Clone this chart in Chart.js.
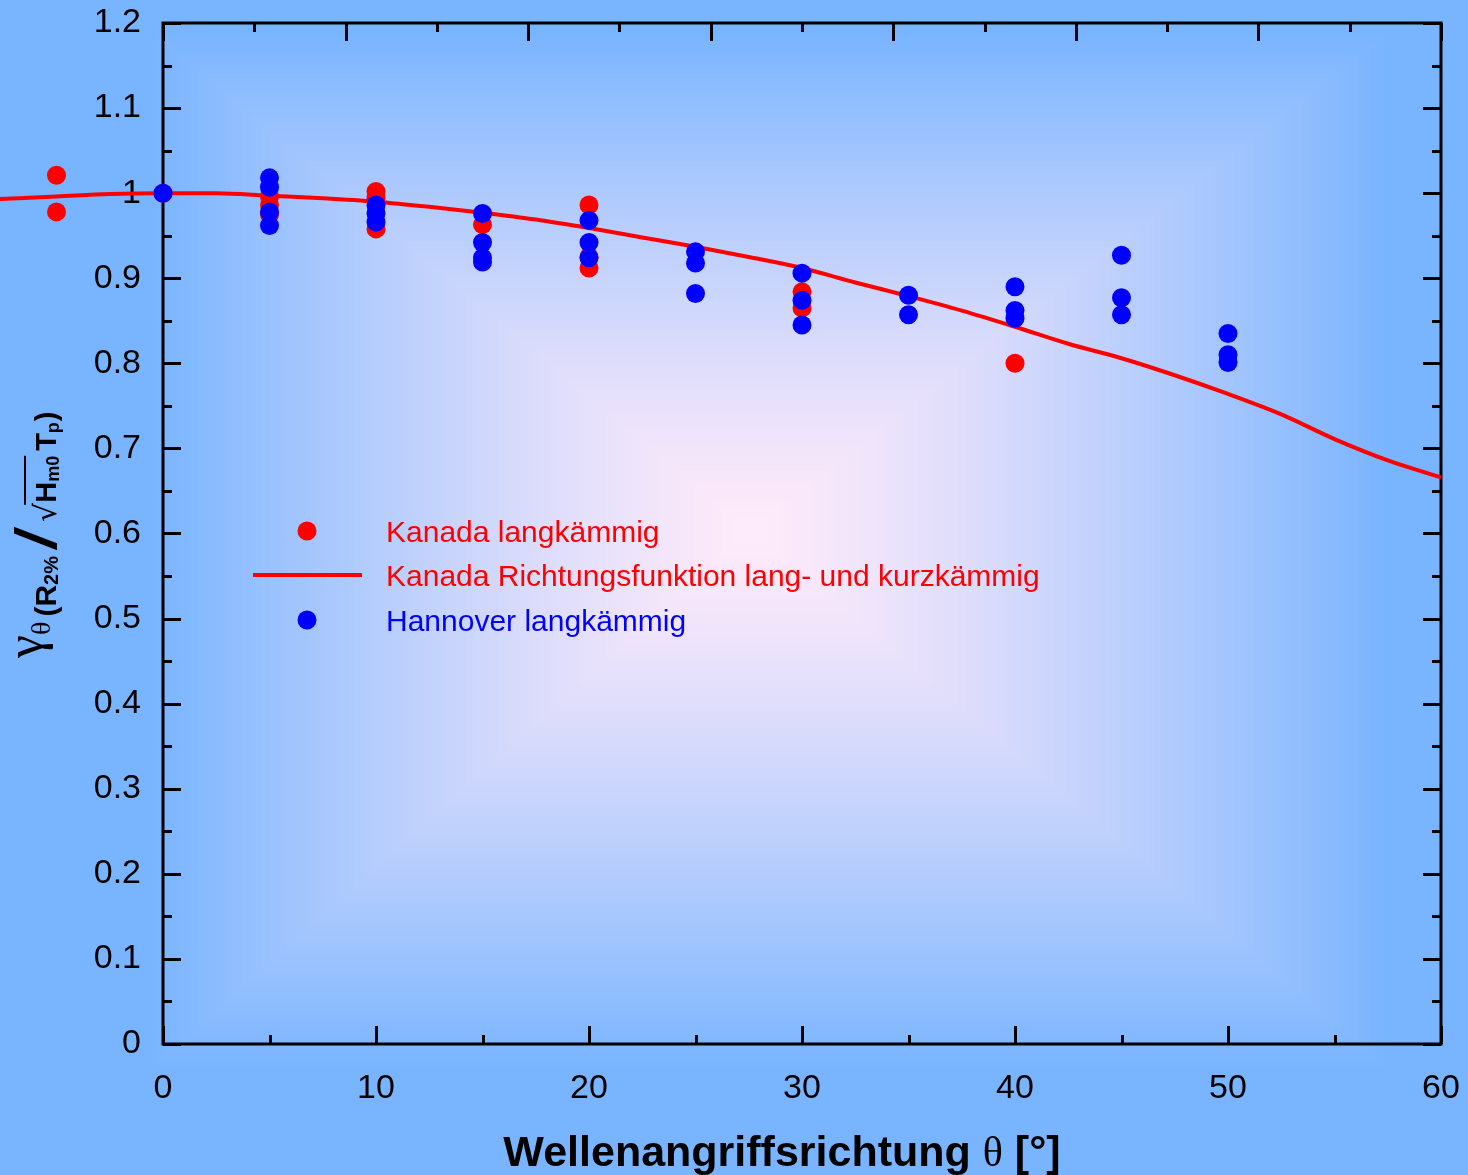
<!DOCTYPE html>
<html>
<head>
<meta charset="utf-8">
<script src="https://cdn.jsdelivr.net/npm/chart.js@4"></script>
<style>
  html, body { margin: 0; padding: 0; overflow: hidden; background: #78b4ff; }
  #c { display: block; }
</style>
</head>
<body>
<canvas id="c" width="1468" height="1175"></canvas>
<script>
// ---- data ---------------------------------------------------------------
// Kanada, long-crested waves: wave direction [deg] and reduction factor
const kanadaTheta = [-5, -5, 0, 5, 5, 5, 10, 10, 10, 15, 20, 20, 20, 30, 30, 40];
const kanadaGamma = [1.021, 0.978, 1.000, 0.996, 0.986, 0.975, 1.002, 0.994, 0.958, 0.963, 0.986, 0.925, 0.912, 0.884, 0.865, 0.800];

// Hannover, long-crested waves
const hannoverTheta = [0, 5, 5, 5, 5, 10, 10, 10, 15, 15, 15, 15, 20, 20, 20, 25, 25, 25, 30, 30, 30, 35, 35, 40, 40, 40, 45, 45, 45, 50, 50, 50];
const hannoverGamma = [1.000, 1.018, 1.007, 0.978, 0.962, 0.986, 0.976, 0.966, 0.976, 0.942, 0.924, 0.919, 0.968, 0.942, 0.924, 0.931, 0.918, 0.882, 0.906, 0.874, 0.845, 0.880, 0.857, 0.890, 0.862, 0.853, 0.927, 0.877, 0.857, 0.835, 0.810, 0.801];

// Kanada directional function (long- and short-crested)
const curveTheta = [-7.7, -5, -2.5, 0, 2.5, 5, 7.5, 10, 12.5, 15, 17.5, 20, 22.5, 25, 27.5, 30, 32.5, 35, 37.5, 40, 42.5, 45, 47.5, 50, 52.5, 55, 57.5, 60];
const curveGamma = [0.993, 0.996, 0.999, 1.000, 1.000, 0.997, 0.994, 0.990, 0.984, 0.977, 0.969, 0.959, 0.948, 0.937, 0.925, 0.912, 0.895, 0.879, 0.862, 0.843, 0.823, 0.806, 0.786, 0.764, 0.740, 0.711, 0.686, 0.666];

// axis ranges and tick labels
const xRange = [0, 60];
const yRange = [0, 1.2];
const xTickLabels = ['0', '10', '20', '30', '40', '50', '60'];
const yTickLabels = ['0', '0.1', '0.2', '0.3', '0.4', '0.5', '0.6', '0.7', '0.8', '0.9', '1', '1.1', '1.2'];

const seriesNames = ['Kanada langkämmig', 'Kanada Richtungsfunktion lang- und kurzkämmig', 'Hannover langkämmig'];

// ---- helpers ------------------------------------------------------------
const zip = (xs, ys) => xs.map((x, i) => ({ x: x, y: ys[i] }));

const SANS = '"Liberation Sans", Arial, sans-serif';
const SERIF = '"Liberation Serif", "Times New Roman", serif';
const RED = '#ff0000';
const BLUE = '#0000ff';
const DOT = 9.5;

// rectangular gradient backdrop, pale pink in the middle to blue at the edges
const backdrop = {
  id: 'backdrop',
  beforeDraw(chart) {
    const ctx = chart.ctx;
    const W = chart.width, H = chart.height;
    if (!this._img || this._img.width !== W || this._img.height !== H) {
      const img = ctx.createImageData(W, H);
      const cx = 750, cy = 530;
      const hxL = 600, hxR = 640, hyT = 500, hyB = 540;
      const edge = [120, 180, 255], mid = [254, 234, 250];
      for (let y = 0; y < H; y++) {
        const ty = y < cy ? (cy - y) / hyT : (y - cy) / hyB;
        for (let x = 0; x < W; x++) {
          const tx = x < cx ? (cx - x) / hxL : (x - cx) / hxR;
          let t = Math.min(1, Math.max(tx, ty));
          t = Math.pow(t, 1.3);
          const k = (y * W + x) * 4;
          img.data[k] = mid[0] + (edge[0] - mid[0]) * t;
          img.data[k + 1] = mid[1] + (edge[1] - mid[1]) * t;
          img.data[k + 2] = mid[2] + (edge[2] - mid[2]) * t;
          img.data[k + 3] = 255;
        }
      }
      this._img = img;
    }
    ctx.putImageData(this._img, 0, 0);
  }
};

// box frame with inward major/minor ticks on all four sides
const frame = {
  id: 'frame',
  beforeDatasetsDraw(chart) {
    const ctx = chart.ctx;
    const a = chart.chartArea;
    const xs = chart.scales.x, ys = chart.scales.y;
    const MAJ = 18, MIN = 9;
    ctx.save();
    ctx.strokeStyle = '#000';
    ctx.lineWidth = 3;
    ctx.lineCap = 'butt';
    ctx.beginPath();
    ctx.rect(a.left, a.top, a.right - a.left, a.bottom - a.top);
    ctx.stroke();
    ctx.beginPath();
    // left and right: major every 0.1, minor between
    for (let i = 0; i <= 24; i++) {
      const py = Math.round(ys.getPixelForValue(i * 0.05)) + 0.5;
      const len = i % 2 === 0 ? MAJ : MIN;
      ctx.moveTo(a.left, py); ctx.lineTo(a.left + len, py);
      ctx.moveTo(a.right, py); ctx.lineTo(a.right - len, py);
    }
    // bottom: major every 10, minor every 5
    for (let i = 0; i <= 12; i++) {
      const px = Math.round(xs.getPixelForValue(i * 5)) + 0.5;
      const len = i % 2 === 0 ? MAJ : MIN;
      ctx.moveTo(px, a.bottom); ctx.lineTo(px, a.bottom - len);
    }
    // top: seven equal divisions with half-step minors
    const TOP_DIV = 7;
    for (let i = 0; i <= TOP_DIV * 2; i++) {
      const px = Math.round(a.left + (a.right - a.left) * i / (TOP_DIV * 2)) + 0.5;
      const len = i % 2 === 0 ? MAJ : MIN;
      ctx.moveTo(px, a.top); ctx.lineTo(px, a.top + len);
    }
    ctx.stroke();
    ctx.restore();
  }
};

// points lying left of the axis box (negative angles) are skipped by the
// point elements' own in-area test; draw those elements here as well
const outsidePoints = {
  id: 'outsidePoints',
  afterDatasetDraw(chart, args) {
    const meta = args.meta;
    if (meta.dataset && meta.dataset.options && meta.dataset.options.showLine) return;
    const a = chart.chartArea;
    const wide = { left: -1e6, top: -1e6, right: 1e6, bottom: 1e6 };
    meta.data.forEach(el => {
      const r = (el.options && el.options.radius) || 0;
      if (el.x < a.left - r || el.x > a.right + r || el.y < a.top - r || el.y > a.bottom + r) {
        el.draw(chart.ctx, wide);
      }
    });
  }
};

// legend inside the plot, axis titles
const annotations = {
  id: 'annotations',
  afterDraw(chart) {
    const ctx = chart.ctx;
    ctx.save();

    // legend
    ctx.font = '30px ' + SANS;
    ctx.textBaseline = 'alphabetic';
    ctx.textAlign = 'left';
    ctx.fillStyle = RED;
    ctx.beginPath(); ctx.arc(307, 531, DOT, 0, Math.PI * 2); ctx.fill();
    ctx.fillText(seriesNames[0], 386, 542);
    ctx.strokeStyle = RED; ctx.lineWidth = 4;
    ctx.beginPath(); ctx.moveTo(253, 575); ctx.lineTo(362, 575); ctx.stroke();
    ctx.fillText(seriesNames[1], 386, 586);
    ctx.fillStyle = BLUE;
    ctx.beginPath(); ctx.arc(307, 620, DOT, 0, Math.PI * 2); ctx.fill();
    ctx.fillText(seriesNames[2], 386, 631);

    // x axis title
    ctx.fillStyle = '#000';
    const p1 = 'Wellenangriffsrichtung ', p2 = '\u03b8', p3 = ' [\u00b0]';
    const f1 = 'bold 43px ' + SANS, f2 = '42px ' + SERIF;
    ctx.font = f1; const w1 = ctx.measureText(p1).width, w3 = ctx.measureText(p3).width;
    ctx.font = f2; const w2 = ctx.measureText(p2).width;
    let x = 782 - (w1 + w2 + w3) / 2;
    const by = 1166;
    ctx.font = f1; ctx.fillText(p1, x, by); x += w1;
    ctx.font = f2; ctx.fillText(p2, x, by); x += w2;
    ctx.font = f1; ctx.fillText(p3, x, by);

    // y axis title, rotated
    ctx.translate(56, 658);
    ctx.rotate(-Math.PI / 2);
    let u = 0;
    const put = (txt, font, dy, gap) => {
      u += gap || 0;
      ctx.font = font;
      ctx.fillText(txt, u, dy);
      u += ctx.measureText(txt).width;
    };
    put('\u03b3', '52px ' + SERIF, -14, 0);
    put('\u03b8', '28px ' + SERIF, -6, 0);
    put('(', 'bold 30px ' + SANS, 0, 5);
    put('R', 'bold 30px ' + SANS, 0, 0);
    put('2%', 'bold 20px ' + SANS, 2, 0);
    put('/', 'bold italic 58px ' + SANS, 0, 8);
    u += 10;
    put('\u221a', '30px "DejaVu Sans", sans-serif', 0, 0);
    const ovStart = u - 2;
    put('H', 'bold 29px ' + SANS, 0, 0);
    put('m0', 'bold 18px ' + SANS, 3, 0);
    const ovEnd = u;
    put('T', 'bold 29px ' + SANS, 0, 5);
    put('p', 'bold 18px ' + SANS, 3, 0);
    put(')', 'bold 29px ' + SANS, 0, 1);
    ctx.strokeStyle = '#000'; ctx.lineWidth = 2;
    ctx.beginPath(); ctx.moveTo(ovStart, -31); ctx.lineTo(ovEnd, -31); ctx.stroke();

    ctx.restore();
  }
};

new Chart(document.getElementById('c'), {
  type: 'scatter',
  data: {
    datasets: [
      {
        label: seriesNames[2],
        data: zip(hannoverTheta, hannoverGamma),
        backgroundColor: BLUE, borderColor: BLUE,
        pointRadius: DOT, pointBorderWidth: 0,
        clip: false, order: 0
      },
      {
        label: seriesNames[0],
        data: zip(kanadaTheta, kanadaGamma),
        backgroundColor: RED, borderColor: RED,
        pointRadius: DOT, pointBorderWidth: 0,
        clip: false, order: 1
      },
      {
        label: seriesNames[1],
        data: zip(curveTheta, curveGamma),
        showLine: true, borderColor: RED, borderWidth: 4,
        pointRadius: 0, cubicInterpolationMode: 'monotone',
        fill: false, clip: false, order: 2
      }
    ]
  },
  options: {
    responsive: false,
    animation: false,
    events: [],
    layout: { padding: { top: 23, right: 27, left: 0, bottom: 0 } },
    plugins: { legend: { display: false }, tooltip: { enabled: false } },
    scales: {
      x: {
        type: 'linear',
        // range set after data limits so points left of 0 are still drawn
        afterDataLimits(s) { s.min = xRange[0]; s.max = xRange[1]; },
        grid: { display: false, drawTicks: false },
        border: { display: false },
        afterFit(s) { s.height = 131; s.paddingLeft = 0; s.paddingRight = 0; },
        ticks: {
          stepSize: 10, padding: 24, color: '#000',
          font: { family: SANS, size: 34 },
          maxRotation: 0,
          callback: (v, i) => xTickLabels[i]
        }
      },
      y: {
        type: 'linear',
        afterDataLimits(s) { s.min = yRange[0]; s.max = yRange[1]; },
        grid: { display: false, drawTicks: false },
        border: { display: false },
        afterFit(s) { s.width = 163; s.paddingTop = 0; s.paddingBottom = 0; },
        ticks: {
          stepSize: 0.1, padding: 22, color: '#000',
          font: { family: SANS, size: 34 },
          callback: (v, i) => yTickLabels[i]
        }
      }
    }
  },
  plugins: [backdrop, frame, outsidePoints, annotations]
});
</script>
</body>
</html>
